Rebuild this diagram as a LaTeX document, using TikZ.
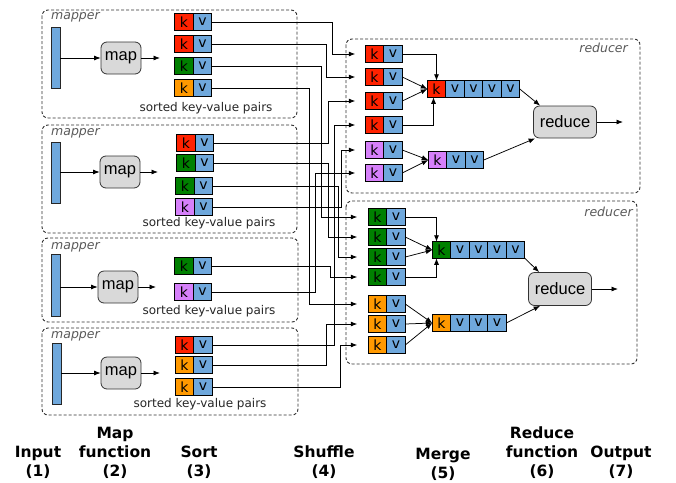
\documentclass[tikz,border=0pt]{standalone}
\usepackage{fontspec}
\setmainfont{DejaVu Sans}
\newfontfamily\arialf{Liberation Sans}
\usetikzlibrary{arrows.meta}
\definecolor{kred}{HTML}{FF2200}
\definecolor{kgreen}{HTML}{008000}
\definecolor{korange}{HTML}{FF9900}
\definecolor{kpurple}{HTML}{D680FA}
\definecolor{vblue}{HTML}{6FA8DC}
\definecolor{fgray}{HTML}{D9D9D9}
\definecolor{dgray}{HTML}{303030}
\definecolor{tgray}{HTML}{5A5A5A}
\newcommand\KVpair[5]{%
  \node[kk,fill=#5] (#1k) at (#2,#3) {k};
  \node[vv,anchor=west] (#1v) at (#1k.east) {v};}
\begin{document}
\begin{tikzpicture}[x=1pt,y=-1pt,
  kk/.style={draw=black,line width=0.8pt,minimum width=18.5pt,minimum height=16.5pt,inner sep=0pt,outer sep=0pt,font=\fontsize{14}{14}\selectfont},
  vv/.style={kk,fill=vblue},
  grp/.style={draw=dgray,line width=0.9pt,dash pattern=on 3pt off 2pt,rounded corners=6pt},
  grplabel/.style={inner sep=0pt,text=tgray,font=\fontsize{12.5}{12.5}\selectfont\itshape},
  sortlabel/.style={inner sep=0pt,text=black!85,font=\fontsize{12}{12}\selectfont},
  bar/.style={draw=black!85,line width=0.8pt,fill=vblue,minimum width=9pt,minimum height=61pt,inner sep=0pt},
  func/.style={draw=black!80,line width=0.8pt,fill=fgray,rounded corners=6pt,inner sep=0pt,font=\arialf\fontsize{16.5}{16.5}\selectfont},
  wire/.style={line width=0.75pt,-{Latex[length=6.5pt,width=5pt]}},
  steplabel/.style={inner sep=0pt,anchor=south,align=center,font=\bfseries\fontsize{15.5}{19}\selectfont}]
\useasboundingbox (0,0) rectangle (676,482);

% ---------- mappers ----------
\draw[grp] (42,10) rectangle (297,118);
\draw[grp] (42,125) rectangle (297,233);
\draw[grp] (42,238) rectangle (298,322);
\draw[grp] (42,328) rectangle (298,415);
\node[grplabel,anchor=west] (ml1) at (51,17) {mapper};
\node[grplabel,anchor=west] (ml2) at (51,133) {mapper};
\node[grplabel,anchor=west] (ml3) at (51,247) {mapper};
\node[grplabel,anchor=west] (ml4) at (51,336) {mapper};

\node[bar] (m1in) at (55.5,57.5) {};
\node[bar] (m2in) at (55.5,172.5) {};
\node[bar,minimum height=62pt] (m3in) at (55.5,285) {};
\node[bar] (m4in) at (56.5,373.5) {};

\node[func,minimum width=40pt,minimum height=32pt] (m1map) at (121,58) {map};
\node[func,minimum width=40pt,minimum height=32pt] (m2map) at (120,172) {map};
\node[func,minimum width=40pt,minimum height=32pt] (m3map) at (118,287) {map};
\node[func,minimum width=40pt,minimum height=32pt] (m4map) at (121,373) {map};
\coordinate (m1out) at (160,58);
\coordinate (m2out) at (158,172);
\coordinate (m3out) at (156,287);
\coordinate (m4out) at (160,373);
\foreach \i in {1,2,3,4}{
  \draw[wire] (m\i in.east |- m\i map.west) -- (m\i map.west);
  \draw[wire] (m\i map.east) -- (m\i out);
}

\KVpair{m1a}{184}{22}{}{kred}
\KVpair{m1b}{184}{44}{}{kred}
\KVpair{m1c}{184}{66}{}{kgreen}
\KVpair{m1d}{184}{88}{}{korange}
\KVpair{m2a}{186}{143}{}{kred}
\KVpair{m2b}{186}{163}{}{kgreen}
\KVpair{m2c}{185}{186}{}{kgreen}
\KVpair{m2d}{185}{207}{}{kpurple}
\KVpair{m3a}{184}{266}{}{kgreen}
\KVpair{m3b}{184}{292}{}{kpurple}
\KVpair{m4a}{184.5}{345}{}{kred}
\KVpair{m4b}{184.5}{365}{}{korange}
\KVpair{m4c}{184.5}{387}{}{korange}

\node[sortlabel] (s1) at (206,108) {sorted key-value pairs};
\node[sortlabel] (s2) at (209,223) {sorted key-value pairs};
\node[sortlabel] (s3) at (209,311) {sorted key-value pairs};
\node[sortlabel] (s4) at (200,404) {sorted key-value pairs};

% ---------- reducers ----------
\draw[grp] (346,39) rectangle (640,193);
\draw[grp] (346,201) rectangle (637,364);
\node[grplabel,anchor=east] (rl1) at (628,48) {reducer};
\node[grplabel,anchor=east] (rl2) at (633,212) {reducer};

\KVpair{r1a}{374.5}{54}{}{kred}
\KVpair{r1b}{374.5}{77}{}{kred}
\KVpair{r1c}{374.5}{101}{}{kred}
\KVpair{r1d}{374.5}{125}{}{kred}
\KVpair{r1e}{374.5}{150}{}{kpurple}
\KVpair{r1f}{374.5}{173}{}{kpurple}

\KVpair{r2a}{377.5}{217}{}{kgreen}
\KVpair{r2b}{377.5}{237}{}{kgreen}
\KVpair{r2c}{377.5}{257}{}{kgreen}
\KVpair{r2d}{377.5}{277}{}{kgreen}
\KVpair{r2e}{377.5}{304}{}{korange}
\KVpair{r2f}{377.5}{324}{}{korange}
\KVpair{r2g}{377.5}{345}{}{korange}

% merged rows
\node[kk,fill=kred] (r1mk) at (436.5,89) {k};
\node[vv,anchor=west] (r1m1) at (r1mk.east) {v};
\node[vv,anchor=west] (r1m2) at (r1m1.east) {v};
\node[vv,anchor=west] (r1m3) at (r1m2.east) {v};
\node[vv,anchor=west] (r1m4) at (r1m3.east) {v};
\node[kk,fill=kpurple] (r1pk) at (437.5,160) {k};
\node[vv,anchor=west] (r1p1) at (r1pk.east) {v};
\node[vv,anchor=west] (r1p2) at (r1p1.east) {v};

\node[kk,fill=kgreen] (r2mk) at (441.5,250) {k};
\node[vv,anchor=west] (r2m1) at (r2mk.east) {v};
\node[vv,anchor=west] (r2m2) at (r2m1.east) {v};
\node[vv,anchor=west] (r2m3) at (r2m2.east) {v};
\node[vv,anchor=west] (r2m4) at (r2m3.east) {v};
\node[kk,fill=korange] (r2ok) at (441.5,323) {k};
\node[vv,anchor=west] (r2o1) at (r2ok.east) {v};
\node[vv,anchor=west] (r2o2) at (r2o1.east) {v};
\node[vv,anchor=west] (r2o3) at (r2o2.east) {v};

\node[func,minimum width=63pt,minimum height=32pt] (r1red) at (565,122) {reduce};
\node[func,minimum width=63pt,minimum height=33pt] (r2red) at (560,289) {reduce};
\coordinate (r1out) at (623,122);
\coordinate (r2out) at (618,289);

% merge connectors
\draw[wire] (r1av.east) -| (r1mk.north);
\draw[wire] (r1bv.east) -- (r1mk.west);
\draw[wire] (r1cv.east) -- (r1mk.west);
\draw[wire] (r1dv.east) -| ([xshift=-3pt]r1mk.south);
\draw[wire] (r1ev.east) -- (r1pk.west);
\draw[wire] (r1fv.east) -- (r1pk.west);
\draw[wire] (r1m4.east) -- ([xshift=7pt]r1red.north west);
\draw[wire] (r1p2.east) -- ([xshift=2pt]r1red.south west);
\draw[wire] (r1red.east) -- (r1out);

\draw[wire] (r2av.east) -| ([xshift=-5pt]r2mk.north);
\draw[wire] (r2bv.east) -- (r2mk.west);
\draw[wire] (r2cv.east) -- (r2mk.west);
\draw[wire] (r2dv.east) -| ([xshift=-5pt]r2mk.south);
\draw[wire] (r2ev.east) -- (r2ok.west);
\draw[wire] (r2fv.east) -- (r2ok.west);
\draw[wire] (r2gv.east) -- (r2ok.west);
\draw[wire] (r2m4.south east) -- ([xshift=11pt]r2red.north west);
\draw[wire] (r2o3.east) -- ([xshift=12pt]r2red.south west);
\draw[wire] (r2red.east) -- (r2out);

% ---------- shuffle ----------
\coordinate (c332) at (332,0);
\coordinate (c326) at (326,0);
\coordinate (c321) at (321,0);
\coordinate (c309) at (309,0);
\coordinate (c328) at (328,0);
\coordinate (c338) at (338,0);
\coordinate (c341) at (341,0);
\coordinate (c330) at (330,0);
\coordinate (c315) at (315,0);
\coordinate (c334) at (334,0);
\coordinate (c340) at (340,0);

\draw[wire] (m1av.east) -- (m1av.east -| c332) |- ([xshift=-10pt]r1ak.west);
\draw[wire] (m1bv.east) -- (m1bv.east -| c326) |- ([xshift=-10pt]r1bk.west);
\draw[wire] (m1cv.east) -- (m1cv.east -| c321) |- ([xshift=-11pt]r2ak.west);
\draw[wire] (m1dv.east) -- (m1dv.east -| c309) |- ([xshift=-11pt]r2ek.west);
\draw[wire] (m2av.east) -- (m2av.east -| c328) |- ([xshift=-10pt]r1ck.west);
\draw[wire] (m2bv.east) -- (m2bv.east -| c328) |- ([xshift=-11pt]r2bk.west);
\draw[wire] (m2cv.east) -- (m2cv.east -| c338) |- ([xshift=-11pt]r2ck.west);
\draw[wire] (m2dv.east) -- (m2dv.east -| c341) |- ([xshift=-10pt]r1ek.west);
\draw[wire] (m3av.east) -- (m3av.east -| c330) |- ([xshift=-11pt]r2dk.west);
\draw[wire] (m3bv.east) -- (m3bv.east -| c315) |- ([xshift=-10pt]r1fk.west);
\draw[wire] (m4av.east) -- (m4av.east -| c334) |- ([xshift=-10pt]r1dk.west);
\draw[wire] (m4bv.east) -- (m4bv.east -| c326) |- ([xshift=-11pt]r2fk.west);
\draw[wire] (m4cv.east) -- (m4cv.east -| c340) |- ([xshift=-11pt]r2gk.west);

% ---------- step labels ----------
\node[steplabel] (l1) at (38,478.5) {Input\\(1)};
\node[steplabel] (l2) at (115,478.5) {Map\\function\\(2)};
\node[steplabel] (l3) at (199,478.5) {Sort\\(3)};
\node[steplabel] (l4) at (324,478.5) {Shuffle\\(4)};
\node[steplabel] (l5) at (443,480.5) {Merge\\(5)};
\node[steplabel] (l6) at (542,478.5) {Reduce\\function\\(6)};
\node[steplabel] (l7) at (621,478.5) {Output\\(7)};
\end{tikzpicture}
\end{document}
